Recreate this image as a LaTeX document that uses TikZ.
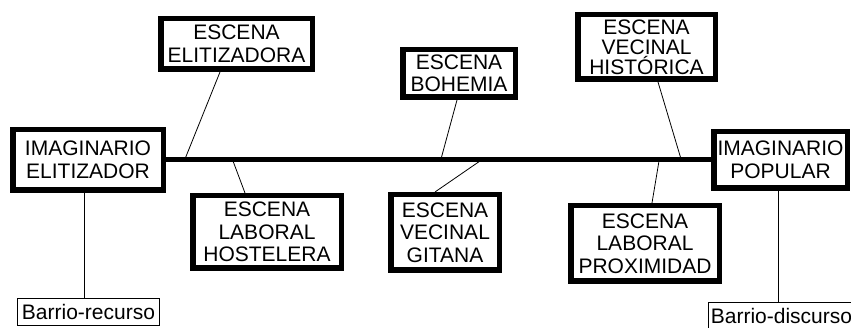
\documentclass[tikz,border=0pt]{standalone}
\usepackage{fontspec}
\setmainfont{Liberation Sans}
\usetikzlibrary{calc}

\begin{document}
\begin{tikzpicture}[x=1pt,y=-1pt,
		escena/.style={draw, line width=5.5pt, align=center, inner sep=0pt, font=\fontsize{21}{22.5}\selectfont},
		barrio/.style={draw, line width=0.8pt, inner sep=3pt, font=\fontsize{21}{23}\selectfont},
		enlace/.style={line width=0.8pt}]
		\useasboundingbox (0,0) rectangle (851,328);
		\node[escena, minimum width=150.5pt, minimum height=60.5pt] (elit) at (88,160) {IMAGINARIO\\ELITIZADOR};
		\node[escena, minimum width=133.5pt, minimum height=56.5pt] (popular) at (780.5,160) {IMAGINARIO\\POPULAR};
		\node[escena, minimum width=151.5pt, minimum height=50.5pt] (escElit) at (236.5,44) {ESCENA\\ELITIZADORA};
		\node[escena, minimum width=148.5pt, minimum height=72.5pt] (escHost) at (267,232) {ESCENA\\LABORAL\\HOSTELERA};
		\node[escena, minimum width=112.5pt, minimum height=47.5pt] (escBoh) at (459,73.5) {ESCENA\\BOHEMIA};
		\node[escena, minimum width=108.5pt, minimum height=75.5pt] (escGit) at (445,232.5) {ESCENA\\VECINAL\\GITANA};
		\node[escena, minimum width=137.5pt, minimum height=64.5pt, font=\fontsize{21}{20}\selectfont] (escHist) at (646.5,47) {ESCENA\\VECINAL\\HISTÓRICA};
		\node[escena, minimum width=148.5pt, minimum height=75.5pt] (escProx) at (645,243.5) {ESCENA\\LABORAL\\PROXIMIDAD};
		\node[barrio, minimum width=142pt, minimum height=27pt] (recurso) at (88.5,312) {Barrio-recurso};
		\node[barrio, minimum height=27pt, anchor=north west] (discurso) at (707.5,302.5) {Barrio-discurso};
		% eje central
		\draw[line width=5pt] (elit.east) -- (popular.west);
		\coordinate (m1) at (185,159);
		\coordinate (m2) at (233,161);
		\coordinate (m3) at (441,159);
		\coordinate (m4) at (480,161);
		\coordinate (m5) at (681,159);
		\coordinate (m6) at (659,161);
		\draw[enlace]
			($(escElit.south) + (-16.5,0)$) -- (m1)
			(m2) -- ($(escHost.north) + (-22,0)$)
			($(escBoh.south) + (-2,0)$) -- (m3)
			(m4) -- ($(escGit.north) + (-10,0)$)
			($(escHist.south) + (11.5,0)$) -- (m5)
			(m6) -- ($(escProx.north) + (7,0)$);
		% barrios
		\coordinate (pr) at ($(elit.south) + (-4,0)$);
		\coordinate (pd) at ($(popular.south) + (-2.5,0)$);
		\draw[enlace] (pr) -- (pr |- recurso.north);
		\draw[enlace] (pd) -- (pd |- discurso.north);
	\end{tikzpicture}
\end{document}
